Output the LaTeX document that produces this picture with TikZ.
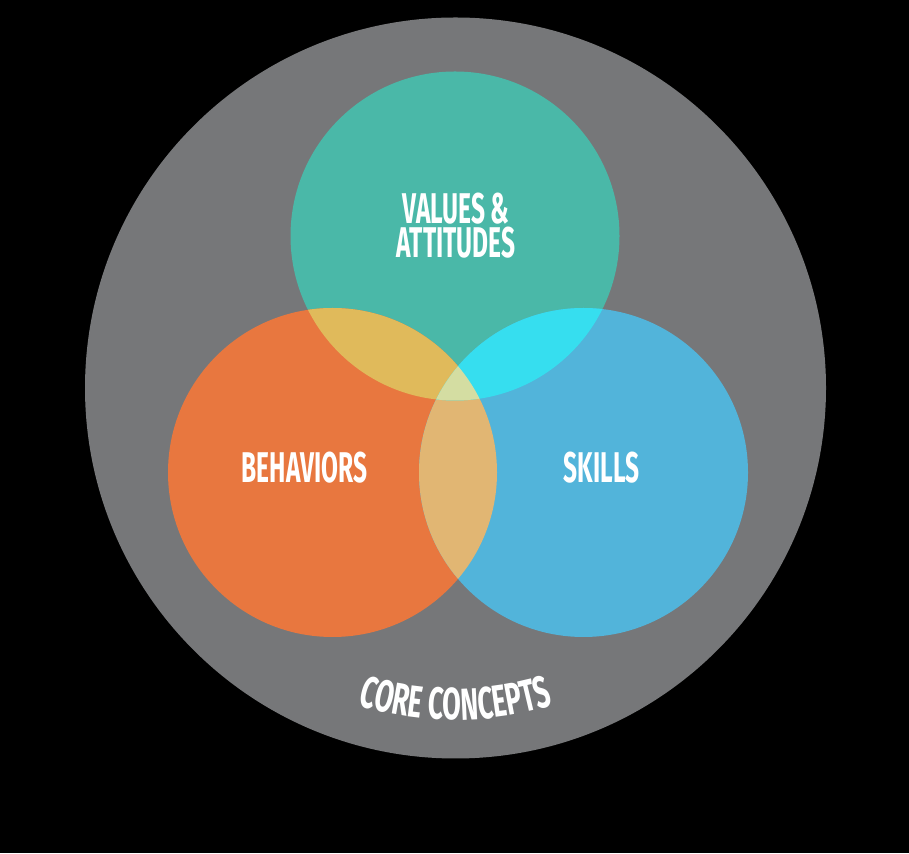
\documentclass[tikz,border=0pt]{standalone}
\usepackage{fontspec}
\setmainfont[FakeStretch=0.57]{Fira Sans}
\newfontfamily\arcfont[FakeStretch=0.6]{Fira Sans}
\usetikzlibrary{decorations.text}
\definecolor{coregray}{HTML}{767779}
\definecolor{valteal}{HTML}{4AB8A8}
\definecolor{behorange}{HTML}{E8773F}
\definecolor{skiblue}{HTML}{52B4DA}
\definecolor{tealorange}{HTML}{E0BA5B}
\definecolor{tealblue}{HTML}{36DEEF}
\definecolor{orangeblue}{HTML}{E1B673}
\definecolor{allthree}{HTML}{D4DDA2}
\begin{document}
\begin{tikzpicture}[x=1pt,y=1pt,
  ring/.style={circle,inner sep=0pt,minimum size=329pt},
  vlabel/.style={text=white,font=\bfseries\fontsize{43}{34}\selectfont,align=center}]
 \fill[black] (0,0) rectangle (909,853);
 \useasboundingbox (0,0) rectangle (909,853);
 \coordinate (core) at (455.5,465);
 \fill[coregray] (core) circle (370.5);
 \coordinate (t) at (455,617);
 \coordinate (o) at (332.5,380.5);
 \coordinate (b) at (583.5,380.5);
 \node[ring,fill=valteal] (values) at (t) {};
 \node[ring,fill=behorange] (behaviors) at (o) {};
 \node[ring,fill=skiblue] (skills) at (b) {};
 \begin{scope}
  \clip (o) circle (164.5);
  \fill[orangeblue] (b) circle (164.5);
 \end{scope}
 \begin{scope}
  \clip (t) circle (164.5);
  \fill[tealorange] (o) circle (164.5);
  \fill[tealblue] (b) circle (164.5);
  \clip (o) circle (164.5);
  \fill[allthree] (b) circle (164.5);
 \end{scope}
 \node[vlabel] (valtext) at (456,627) {VALUES \&\\ATTITUDES};
 \node[vlabel] (behtext) at (304.5,385.5) {BEHAVIORS};
 \node[vlabel] (skitext) at (601.5,385.5) {SKILLS};
 \path[decorate,decoration={text along path,text align=center,
   text={|\color{white}\arcfont\bfseries\fontsize{45}{45}\selectfont|CORE CONCEPTS}}]
   (core) ++(-116:332) arc[start angle=-116,end angle=-64,radius=332];
\end{tikzpicture}
\end{document}
